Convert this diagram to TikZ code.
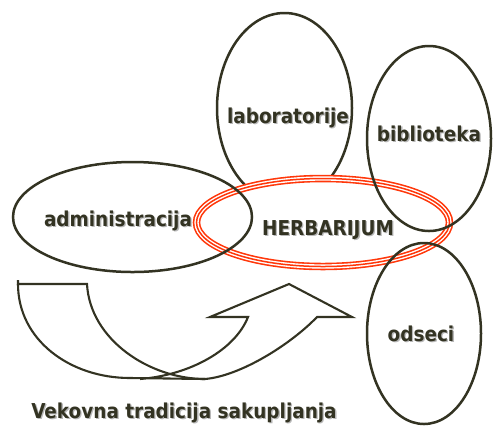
\documentclass[tikz,border=0pt]{standalone}
\usepackage{fontspec}
\setmainfont{DejaVu Sans Condensed}[BoldFont={DejaVu Sans Condensed Bold}]
\usetikzlibrary{shapes.geometric}
\definecolor{ink}{RGB}{51,51,34}
\definecolor{herbred}{RGB}{255,55,10}
\tikzset{
  bubble/.style={ellipse, draw=ink, line width=2.5bp, inner sep=0pt, outer sep=0pt},
  lbl/.style={font=\bfseries\fontsize{20.5bp}{24bp}\selectfont, text=ink, inner sep=0pt, anchor=base},
  lblshadow/.style={lbl, text=black!28},
  arrowline/.style={draw=ink, line width=2.1bp},
}
% label with a soft drop shadow
\newcommand{\shadowlabel}[4]{%
  \node[lblshadow] at ([shift={(1.3,1.3)}]#2) {#4};
  \node[lbl] (#1) at (#2) {#4};
  \coordinate (#3) at (#2);
}
\begin{document}
\begin{tikzpicture}[x=1bp, y=-1bp]
\useasboundingbox (0,0) rectangle (493,425);

% laboratory bubble sits underneath the herbarium ring
\node[bubble, minimum width=135bp, minimum height=190bp] (lab) at (284.5,108) {};

% herbarium ring: white filled, three thin red strokes
\node[ellipse, minimum width=254bp, minimum height=89bp, inner sep=0pt, fill=white] (herb) at (323,222.5) {};
\draw[herbred, line width=7.5bp] (herb.center) ellipse [x radius=126.5, y radius=44];
\draw[white, line width=4.3bp] (herb.center) ellipse [x radius=126.5, y radius=44];
\draw[herbred, line width=1.5bp] (herb.center) ellipse [x radius=126.5, y radius=44];

% remaining bubbles
\node[bubble, minimum width=124bp, minimum height=185bp] (bib) at (429,138.5) {};
\node[bubble, minimum width=239bp, minimum height=110bp] (adm) at (132.5,217) {};
\node[bubble, minimum width=114bp, minimum height=181bp] (ods) at (424,333.5) {};

% curved up arrow: back band
\draw[arrowline] (18,280) -- (18,284) -- (87,284)
  .. controls (90,340) and (150,379) .. (205,379);
% curved up arrow: front band with head
\draw[arrowline, line join=miter] (18,284)
  .. controls (18,340) and (70,378) .. (130,378) -- (205,379)
  .. controls (240,376) and (290,345) .. (317,317)
  -- (352,317) -- (289,284) -- (210,317) -- (248,317)
  .. controls (235,350) and (190,375) .. (140,379);

% labels
\shadowlabel{tlab}{288,123}{plab}{laboratorije}
\shadowlabel{tbib}{429,141}{pbib}{biblioteka}
\shadowlabel{tadm}{118,226}{padm}{administracija}
\shadowlabel{therb}{328,235}{pherb}{HERBARIJUM}
\shadowlabel{tods}{421,341}{pods}{odseci}
\shadowlabel{tvek}{184,418}{pvek}{Vekovna tradicija sakupljanja}
\end{tikzpicture}
\end{document}
